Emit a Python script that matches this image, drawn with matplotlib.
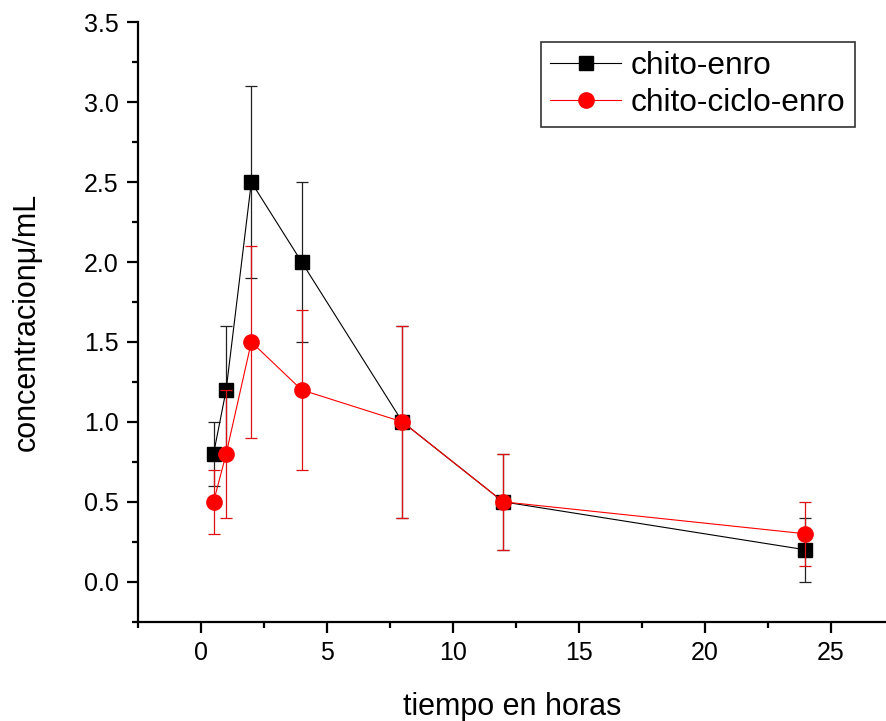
import matplotlib
matplotlib.use("Agg")
import matplotlib.pyplot as plt
from matplotlib.ticker import MultipleLocator

plt.rcParams["font.family"] = ["Liberation Sans", "DejaVu Sans"]

tiempo = [0.5, 1, 2, 4, 8, 12, 24]
enro = [0.8, 1.2, 2.5, 2.0, 1.0, 0.5, 0.2]
enro_err = [0.2, 0.4, 0.6, 0.5, 0.6, 0.3, 0.2]
ciclo = [0.5, 0.8, 1.5, 1.2, 1.0, 0.5, 0.3]
ciclo_err = [0.2, 0.4, 0.6, 0.5, 0.6, 0.3, 0.2]

fig = plt.figure(figsize=(8.86, 7.21), dpi=100)
ax = fig.add_axes([138 / 886, 1 - 621.7 / 721, 1 - 138 / 886, (621.7 - 22.3) / 721])

# error bars first, then line + marker on top
ax.errorbar(tiempo, enro, yerr=enro_err, fmt="none", ecolor="#222222",
            elinewidth=0.9, capsize=4.3, capthick=0.9, zorder=2)
ax.plot(tiempo, enro, color="black", lw=0.8, marker="s", ms=9.5,
        label="chito-enro", zorder=3)
ax.errorbar(tiempo, ciclo, yerr=ciclo_err, fmt="none", ecolor="#dd1111",
            elinewidth=0.9, capsize=4.3, capthick=0.9, zorder=4)
ax.plot(tiempo, ciclo, color="red", lw=0.8, marker="o", ms=11,
        label="chito-ciclo-enro", zorder=5)

ax.set_xlim(-2.5, 27.2)
ax.set_ylim(-0.25, 3.5)
ax.xaxis.set_major_locator(MultipleLocator(5))
ax.xaxis.set_minor_locator(MultipleLocator(2.5))
ax.yaxis.set_major_locator(MultipleLocator(0.5))
ax.yaxis.set_minor_locator(MultipleLocator(0.25))
ax.set_yticks([0, 0.5, 1.0, 1.5, 2.0, 2.5, 3.0, 3.5])
ax.set_yticklabels(["0.0", "0.5", "1.0", "1.5", "2.0", "2.5", "3.0", "3.5"])

for side in ["top", "right"]:
    ax.spines[side].set_visible(False)
for side in ["left", "bottom"]:
    ax.spines[side].set_linewidth(1.6)

ax.tick_params(which="major", direction="out", length=8, width=1.6,
               labelsize=18, pad=6)
ax.tick_params(which="minor", direction="out", length=4, width=1.6)

ax.set_xlabel("tiempo en horas", fontsize=22, labelpad=19)
ax.set_ylabel("concentracionμ/mL", fontsize=22, labelpad=30)

leg = ax.legend(loc="upper right", bbox_to_anchor=(855 / 886, 1 - 42 / 721),
                bbox_transform=fig.transFigure, borderaxespad=0,
                fontsize=22.8, handlelength=2.25, handletextpad=0.3,
                labelspacing=0.2, borderpad=0.3, fancybox=False,
                framealpha=1)
leg.get_frame().set_edgecolor("#333333")
leg.get_frame().set_linewidth(1.2)

fig.savefig("out.png", dpi=100)
